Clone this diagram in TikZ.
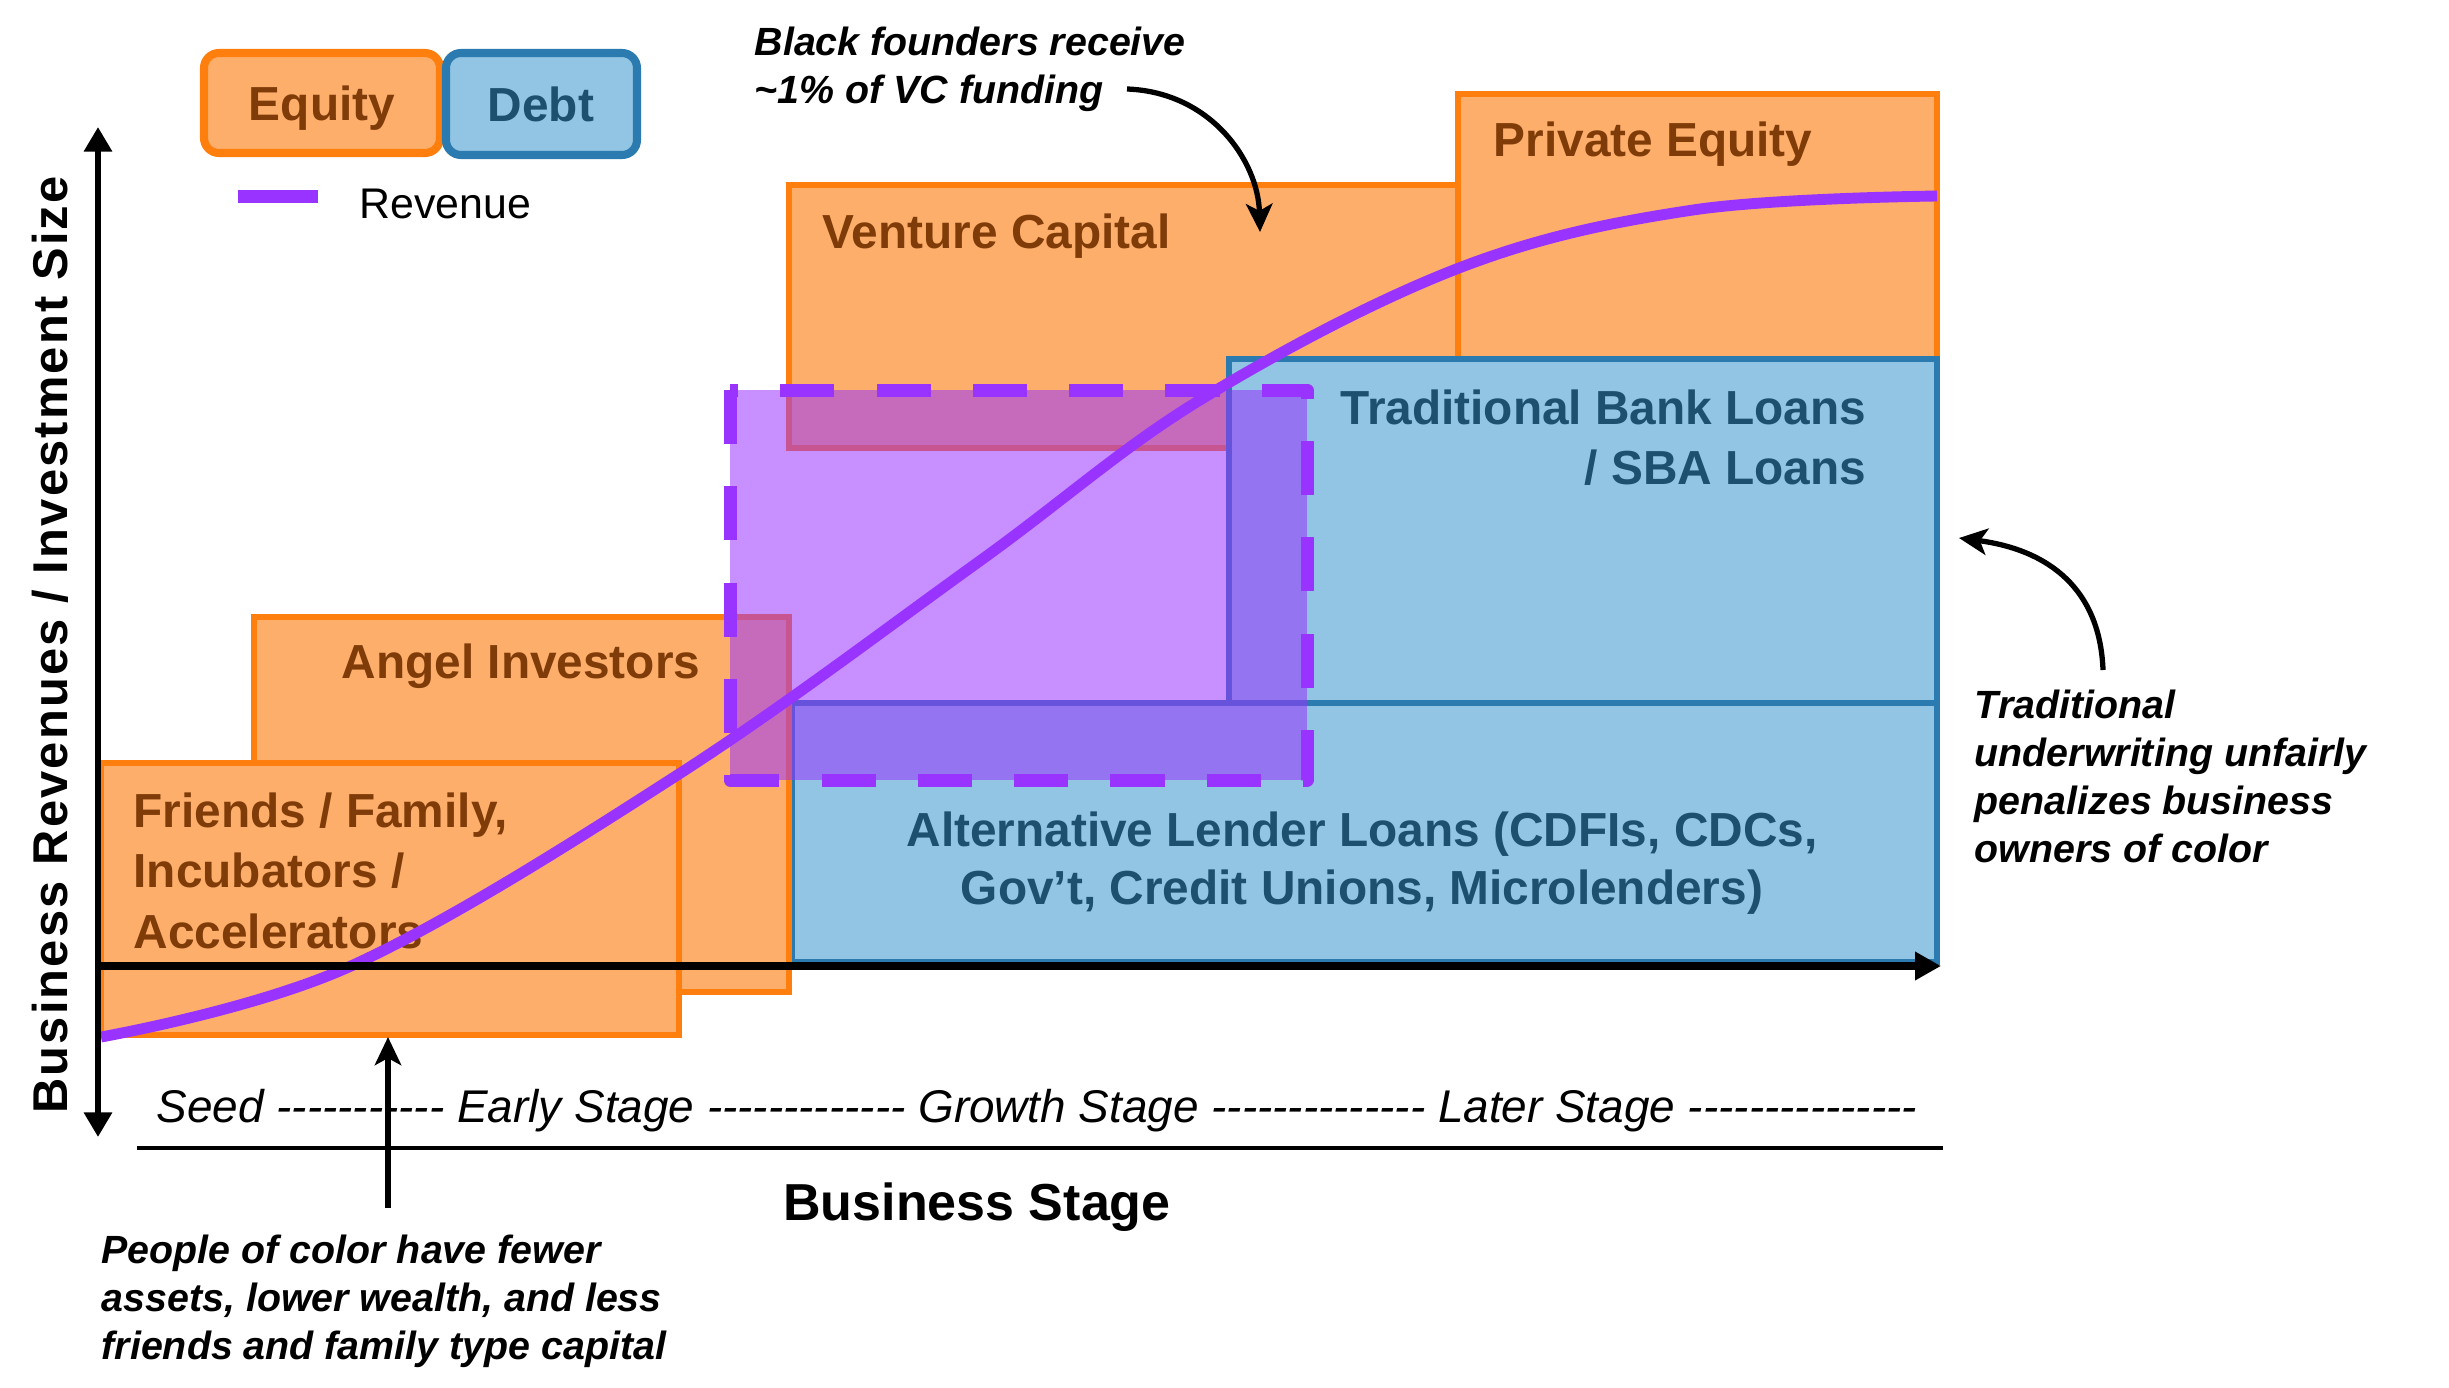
\documentclass[tikz,border=0pt]{standalone}
\usepackage{fontspec}
\setmainfont{Liberation Sans}
\newfontfamily\spacedfont[LetterSpace=4.5]{Liberation Sans}
\usetikzlibrary{arrows.meta}

\definecolor{eqfill}{HTML}{FDAE6B}
\definecolor{eqline}{HTML}{FF7F0E}
\definecolor{eqtext}{HTML}{7F3B08}
\definecolor{dbfill}{HTML}{92C5E4}
\definecolor{dbline}{HTML}{2B7BB0}
\definecolor{dbtext}{HTML}{1D4F6F}
\definecolor{rev}{HTML}{9933FF}

\ExplSyntaxOn
\cs_new:Npn \dashrun #1 { \prg_replicate:nn {#1} { -\kern0pt\relax } }
\ExplSyntaxOff

\tikzset{
  eqbox/.style={fill=eqfill, draw=eqline, line width=1.7pt},
  dbbox/.style={fill=dbfill, draw=dbline, line width=1.7pt},
  eqlabel/.style={text=eqtext, font=\fontsize{13.6}{17.2}\selectfont\bfseries, inner sep=0pt},
  dblabel/.style={text=dbtext, font=\fontsize{13.6}{17.2}\selectfont\bfseries, inner sep=0pt},
  note/.style={font=\fontsize{11.2}{13.7}\selectfont\bfseries\itshape, inner sep=0pt, align=left},
  notearrow/.style={line width=1.5pt, -{Stealth[length=8pt,width=7.5pt,inset=2pt]}},
}

\begin{document}
\begin{tikzpicture}[x=0.1mm, y=-0.1mm]
\useasboundingbox (0,0) rectangle (2449,1387);

% funding boxes
\filldraw[eqbox] (789,185) rectangle (1458,448);
\filldraw[eqbox] (1458,94) rectangle (1937,359);
\filldraw[dbbox] (1229,359) rectangle (1937,703);
\filldraw[dbbox] (792,703) rectangle (1937,962);
\filldraw[eqbox] (254,617) rectangle (789,992);
\filldraw[eqbox] (101,763) rectangle (679,1035);

\node[eqlabel, anchor=base west] (vc) at (822,248) {Venture Capital};
\node[eqlabel, anchor=base west] (pe) at (1493,156) {Private Equity};
\node[eqlabel, anchor=base west] (angel) at (341,678) {Angel Investors};
\node[eqlabel, anchor=north west, align=left] (ff) at (133,792) {Friends / Family,\\Incubators /\\Accelerators};
\node[dblabel, anchor=north east, align=right] (tbl) at (1867,389) {Traditional Bank Loans\\/ SBA Loans};
\node[dblabel, anchor=north, align=center, font=\fontsize{13.6}{16.5}\selectfont\bfseries] (alt) at (1362,811) {Alternative Lender Loans (CDFIs, CDCs,\\Gov’t, Credit Unions, Microlenders)};

% gap region
\fill[rev, fill opacity=0.55] (730,390) rectangle (1307,780);
\draw[rev, line width=3.7pt, dash pattern=on 15.4pt off 12pt, line join=round] (730,390) rectangle (1307,780);

% revenue curve
\draw[rev, line width=3.1pt] plot[smooth, tension=0.6] coordinates {(101,1037) (351,966) (679,774) (977,563) (1200,400) (1459,268) (1693,210) (1937,196)};

% axes
\draw[line width=1.7pt, {Triangle[length=7pt,width=7.7pt]}-{Triangle[length=7pt,width=7.7pt]}] (98,1137) -- (98,127);
\draw[line width=2.1pt, -{Triangle[length=7.4pt,width=7.7pt]}] (98,966) -- (1941,966);
\draw[line width=1.1pt] (137,1148) -- (1943,1148);
\node[rotate=90, font={\spacedfont\bfseries\fontsize{13.9}{16}\selectfont}, anchor=base, inner sep=0pt] (ylab) at (67,645) {Business Revenues / Investment Size};
\node[font=\fontsize{13.05}{15}\selectfont\itshape, anchor=base west, inner sep=0pt] (stages) at (156,1122) {Seed \dashrun{11} Early Stage \dashrun{13} Growth Stage \dashrun{14} Later Stage \dashrun{15}};
\node[font=\fontsize{14.8}{17}\selectfont\bfseries, anchor=base, inner sep=0pt] (bstage) at (977,1220) {Business Stage};

% legend
\draw[eqbox, line width=2.3pt, rounded corners=1.5mm] (204,53) rectangle (440,153);
\node[eqlabel, anchor=base] (eqkey) at (322,120) {Equity};
\draw[dbbox, line width=2.3pt, rounded corners=1.5mm] (446,53) rectangle (637,155);
\node[dblabel, anchor=base] (dbkey) at (541,121) {Debt};
\draw[rev, line width=3.7pt] (238,196) -- (318,196);
\node[font=\fontsize{12.2}{14}\selectfont, anchor=base west, inner sep=0pt] (revkey) at (359,218) {Revenue};

% notes
\node[note, anchor=north west] (bf) at (754,26) {Black founders receive\\\textasciitilde1\% of VC funding};
\coordinate (bfstart) at (1127,89);
\coordinate (vctip) at (1260,232);
\draw[notearrow] (bfstart) .. controls (1210,92) and (1258,160) .. (vctip);

\node[note, anchor=north west] (poc) at (101,1234) {People of color have fewer\\assets, lower wealth, and less\\friends and family type capital};
\coordinate (pocstart) at (388,1208);
\coordinate (fftip) at (388,1037);
\draw[notearrow] (pocstart) -- (fftip);

\node[note, anchor=north west] (trad) at (1974,689) {Traditional\\underwriting unfairly\\penalizes business\\owners of color};
\coordinate (tradstart) at (2103,670);
\coordinate (tbltip) at (1959,538);
\draw[notearrow] (tradstart) .. controls (2100,590) and (2050,550) .. (tbltip);
\end{tikzpicture}
\end{document}
